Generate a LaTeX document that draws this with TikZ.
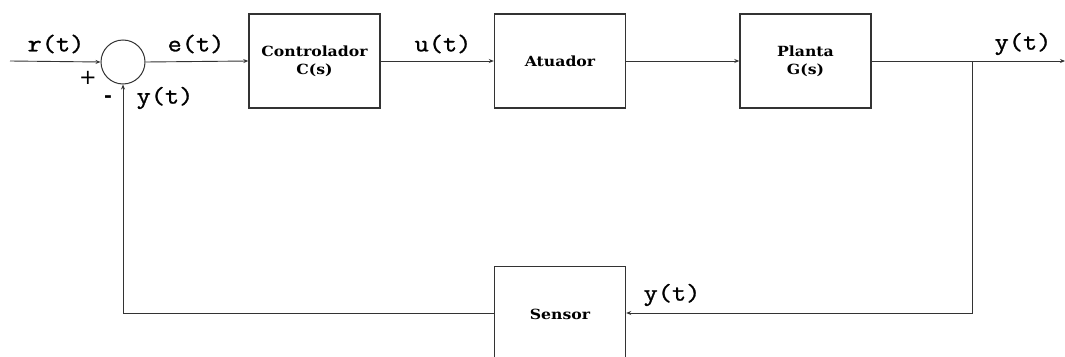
\documentclass[tikz,border=0pt]{standalone}
\usepackage{fontspec}
\setmainfont{DejaVu Serif}
\newfontfamily\boxfont[FakeStretch=1.12]{DejaVu Serif}
\newfontfamily\lblfont[FakeBold=1.2,FakeStretch=1.15]{Latin Modern Mono}
\usetikzlibrary{arrows.meta}
\definecolor{ln}{HTML}{333333}
\tikzset{
  blk/.style={draw=ln, line width=1.4pt, minimum width=131pt, minimum height=94pt, inner sep=0pt, font=\boxfont\bfseries\fontsize{14}{18}\selectfont, align=center},
  sig/.style={draw=ln, line width=0.9pt, -{Stealth[length=5pt,width=4pt]}},
  lbl/.style={font=\lblfont\fontsize{24}{25}\selectfont, inner sep=0pt}
}
\begin{document}
\begin{tikzpicture}[x=1pt,y=-1pt]
\useasboundingbox (0,0) rectangle (1065,356);
\clip (0,0) rectangle (1065,356);
\node[draw=ln, line width=1pt, circle, minimum size=44pt, inner sep=0pt] (sum) at (123,62) {};
\node[blk] (ctrl) at (314.5,61) {Controlador\\C(s)};
\node[blk] (atu) at (560,61) {Atuador};
\node[blk] (plant) at (805.5,61) {Planta\\G(s)};
\node[blk, minimum height=140pt, anchor=north] (sens) at (560,266) {};
\node[font=\boxfont\bfseries\fontsize{14}{18}\selectfont] (senstxt) at (560,314) {Sensor};
\coordinate (in) at (10,61);
\coordinate (out) at (1065,61);
\coordinate (br) at (972,61);
\coordinate (brd) at (972,313);
\coordinate (fbl) at (123,313);
\draw[sig] (in) -- (sum.west);
\draw[sig] (sum.east) -- (ctrl.west);
\draw[sig] (ctrl.east) -- (atu.west);
\draw[sig] (atu.east) -- (plant.west);
\draw[sig] (plant.east) -- (out);
\draw[sig] (br) -- (brd) -- (sens.east |- brd);
\draw[sig] (sens.west |- fbl) -- (fbl) -- (sum.south);
\node[lbl] (lr) at (56,44) {r(t)};
\node[lbl] (le) at (196,44) {e(t)};
\node[lbl] (lu) at (443,44) {u(t)};
\node[lbl] (ly) at (1023,44) {y(t)};
\node[lbl] (ly2) at (165,98) {y(t)};
\node[lbl] (ly3) at (672,295) {y(t)};
\node[font=\fontspec{DejaVu Sans}\fontsize{21}{22}\selectfont, inner sep=0pt] (plus) at (88,78) {+};
\node[font=\fontspec{DejaVu Sans}\bfseries\fontsize{19}{20}\selectfont, inner sep=0pt] (minus) at (108,99) {-};
\end{tikzpicture}
\end{document}
